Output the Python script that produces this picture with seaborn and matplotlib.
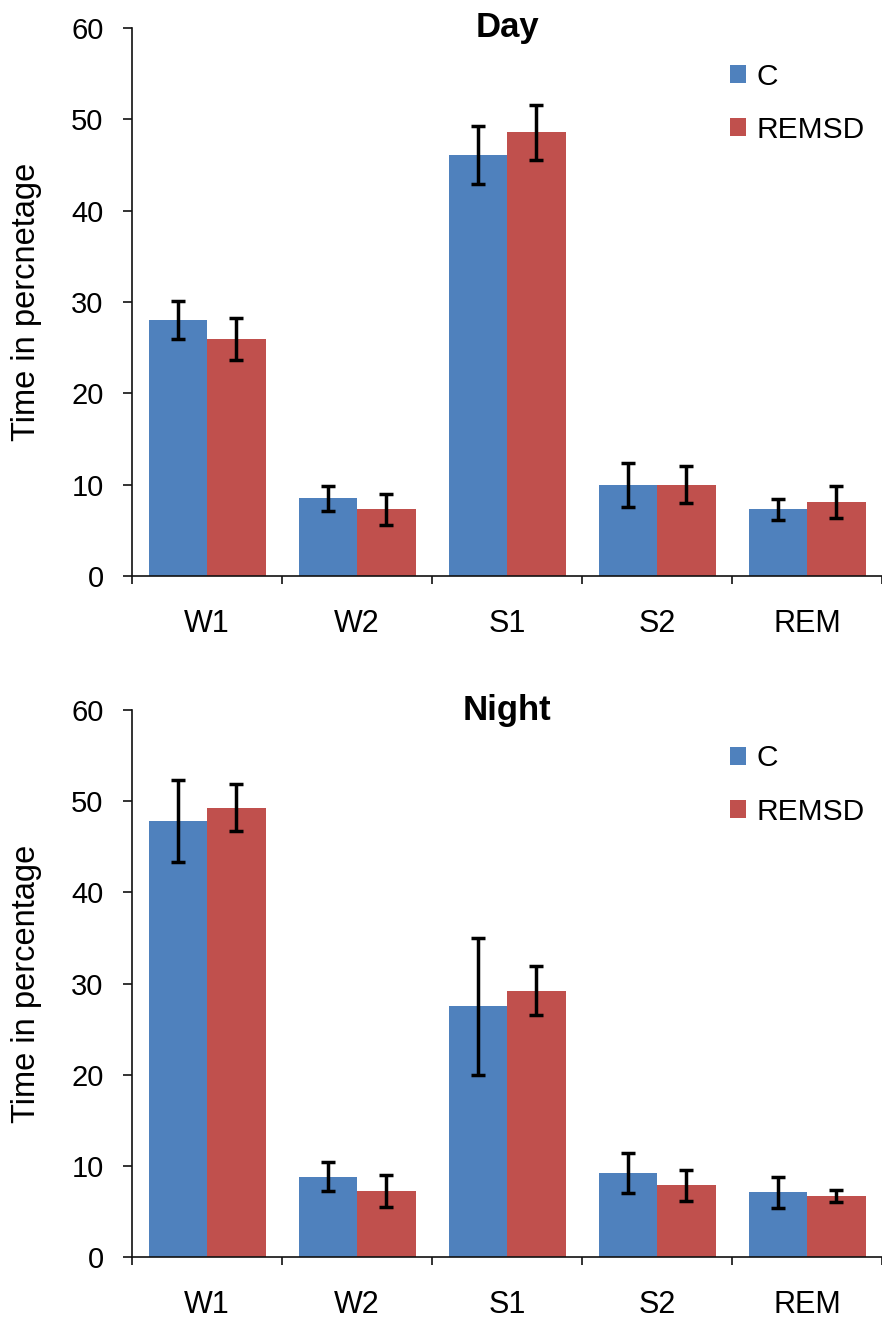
import numpy as np
import pandas as pd
import matplotlib
matplotlib.use("Agg")
import matplotlib.pyplot as plt
import seaborn as sns

stages = ["W1", "W2", "S1", "S2", "REM"]
groups = ["C", "REMSD"]

day_c = [28.0, 8.5, 46.1, 10.0, 7.3]
day_c_err = [2.1, 1.4, 3.2, 2.4, 1.15]
day_r = [26.0, 7.3, 48.6, 10.0, 8.1]
day_r_err = [2.3, 1.7, 3.0, 2.05, 1.75]

night_c = [47.8, 8.8, 27.5, 9.2, 7.1]
night_c_err = [4.5, 1.6, 7.5, 2.2, 1.7]
night_r = [49.3, 7.2, 29.2, 7.9, 6.7]
night_r_err = [2.6, 1.75, 2.7, 1.7, 0.7]

yticks = [0, 10, 20, 30, 40, 50, 60]

BLUE = "#4F81BD"
RED = "#C0504D"

sns.set_theme(style="white")
plt.rcParams["font.family"] = ["Liberation Sans", "DejaVu Sans"]
plt.rcParams["text.color"] = "black"
plt.rcParams["axes.labelcolor"] = "black"
plt.rcParams["xtick.color"] = "black"
plt.rcParams["ytick.color"] = "black"

fig = plt.figure(figsize=(8.82, 13.2), dpi=100)
ax1 = fig.add_axes([0.1497, 0.5636, 0.8503, 0.4152])
ax2 = fig.add_axes([0.1497, 0.0477, 0.8503, 0.4144])


def draw(ax, c, ce, r, re, title, ylabel):
    df = pd.DataFrame({
        "stage": stages * 2,
        "group": [groups[0]] * len(stages) + [groups[1]] * len(stages),
        "value": c + r,
    })
    sns.barplot(data=df, x="stage", y="value", hue="group", order=stages,
                hue_order=groups, palette=[BLUE, RED], width=0.78, gap=0,
                errorbar=None, saturation=1, linewidth=0, ax=ax)
    for cont, errs in zip(ax.containers, [ce, re]):
        xs = [p.get_x() + p.get_width() / 2 for p in cont]
        hs = [p.get_height() for p in cont]
        ax.errorbar(xs, hs, yerr=errs, fmt="none", ecolor="black",
                    elinewidth=2.5, capsize=5, capthick=2.5, zorder=5)
    ax.set_xlim(-0.5, len(stages) - 0.5)
    ax.set_ylim(0, 60)
    ax.set_yticks(yticks)
    ax.set_yticklabels([str(v) for v in yticks], fontsize=21, color="black")
    # category boundaries as major ticks, labels on minor ticks
    ax.set_xticks(np.arange(-0.5, len(stages), 1.0))
    ax.set_xticklabels([])
    ax.set_xticks(np.arange(len(stages)), minor=True)
    ax.set_xticklabels(stages, minor=True, fontsize=22, color="black",
                       family=["Liberation Sans Narrow", "Liberation Sans"])
    ax.tick_params(axis="x", which="major", direction="out", length=6,
                   width=1.2, color="#111111", bottom=True)
    ax.tick_params(axis="x", which="minor", length=0, pad=24, bottom=True)
    ax.tick_params(axis="y", direction="out", length=6.5, width=1.2,
                   color="#111111", pad=14, left=True)
    for s in ["top", "right"]:
        ax.spines[s].set_visible(False)
    for s in ["left", "bottom"]:
        ax.spines[s].set_color("#111111")
        ax.spines[s].set_linewidth(1.2)
    ax.set_xlabel("")
    ax.set_ylabel(ylabel, fontsize=23.5, va="center", color="black")
    ax.yaxis.set_label_coords(-0.141, 0.5)
    ax.text(0.5, 1.0, title, transform=ax.transAxes, ha="center",
            va="center", fontsize=25, fontweight="bold", color="black")
    handles, labels = ax.get_legend_handles_labels()
    leg = ax.legend(handles, labels, loc="upper left",
                    bbox_to_anchor=(0.797, 0.937), frameon=False,
                    fontsize=21.5, handlelength=0.55, handleheight=0.55,
                    handletextpad=0.35, labelspacing=0.85, borderpad=0,
                    borderaxespad=0)
    for t in leg.get_texts():
        t.set_color("black")


draw(ax1, day_c, day_c_err, day_r, day_r_err, "Day", "Time in percnetage")
draw(ax2, night_c, night_c_err, night_r, night_r_err, "Night", "Time in percentage")

fig.savefig("out.png", dpi=100)
